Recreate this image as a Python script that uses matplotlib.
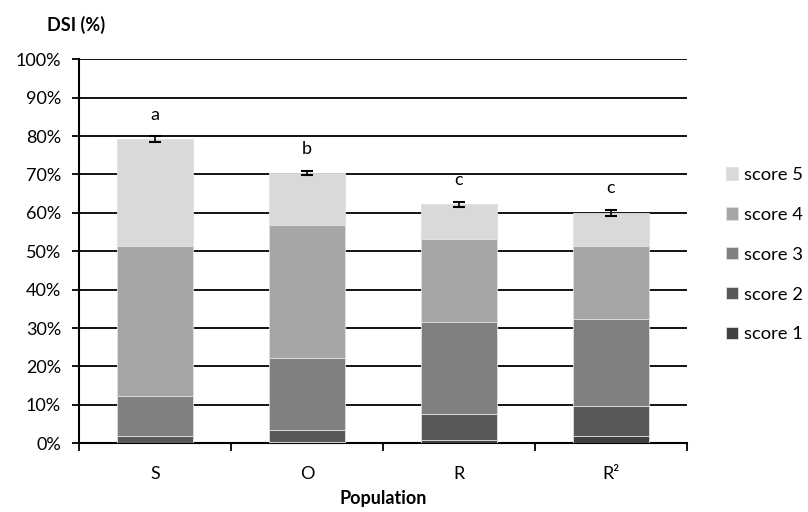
import matplotlib
matplotlib.use('Agg')
import matplotlib.pyplot as plt
import numpy as np

plt.rcParams['font.family'] = ['Lato', 'DejaVu Sans']

populations = ['S', 'O', 'R', 'R²']
score_labels = ['score 1', 'score 2', 'score 3', 'score 4', 'score 5']

# DSI contribution of each score class (%)
score1 = [0.2, 0.3, 0.9, 1.8]
score2 = [1.7, 3.1, 6.6, 7.9]
score3 = [10.4, 18.8, 24.0, 22.7]
score4 = [39.1, 34.6, 21.6, 19.0]
score5 = [27.8, 13.6, 9.1, 8.6]
dsi_err = [0.7, 0.6, 0.7, 0.7]
letters = ['a', 'b', 'c', 'c']

colors = ['#404040', '#595959', '#808080', '#a6a6a6', '#d9d9d9']
FS = 13

fig = plt.figure(figsize=(8.08, 5.12), dpi=100)
ax = fig.add_axes([0.0978, 0.1342, 0.7522, 0.75])

x = np.arange(len(populations))
series = [score1, score2, score3, score4, score5]
bottom = np.zeros(len(populations))
handles = []
for vals, col, lab in zip(series, colors, score_labels):
    h = ax.bar(x, vals, width=0.5, bottom=bottom, color=col, edgecolor='#e0e0e0',
               linewidth=0.6, label=lab, zorder=3)
    handles.append(h)
    bottom += np.array(vals)

totals = bottom
ax.errorbar(x, totals, yerr=dsi_err, fmt='none', ecolor='black', elinewidth=1.2,
            capsize=4, capthick=1.5, zorder=4)

# significance letters above each bar
for xi, tot, err, let in zip(x, totals, dsi_err, letters):
    ax.annotate(let, xy=(xi, tot + err), xytext=(0, 10), textcoords='offset points',
                ha='center', va='bottom', fontsize=FS)

ax.set_xlim(-0.5, len(populations) - 0.5)
ax.set_ylim(0, 100)
ax.set_yticks(np.arange(0, 101, 10))
ax.set_yticklabels([f'{v}%' for v in range(0, 101, 10)], fontsize=FS)
ax.yaxis.grid(True, color='black', linewidth=1.3, zorder=0)
ax.set_axisbelow(True)

ax.set_xticks(x)
ax.set_xticklabels(populations, fontsize=FS)
ax.tick_params(axis='x', length=0, pad=16)
ax.set_xticks(np.arange(-0.5, len(populations)), minor=True)
ax.tick_params(axis='x', which='minor', length=6, width=1.3, direction='out')
ax.tick_params(axis='y', length=5, width=1.3, direction='out', pad=8)

for side in ['top', 'right']:
    ax.spines[side].set_visible(False)
for side in ['left', 'bottom']:
    ax.spines[side].set_linewidth(1.5)

ax.set_xlabel('Population', fontsize=FS, fontweight='bold', labelpad=6)
fig.text(0.058, 0.952, 'DSI (%)', fontsize=FS, fontweight='bold', ha='left', va='center')

fig.legend(handles[::-1], score_labels[::-1], loc='center left', bbox_to_anchor=(0.899, 0.5025),
           frameon=False, fontsize=13.2, handlelength=0.66, handleheight=0.66,
           handletextpad=0.3, labelspacing=1.3, borderpad=0, borderaxespad=0)

fig.savefig('out.png', dpi=100)
